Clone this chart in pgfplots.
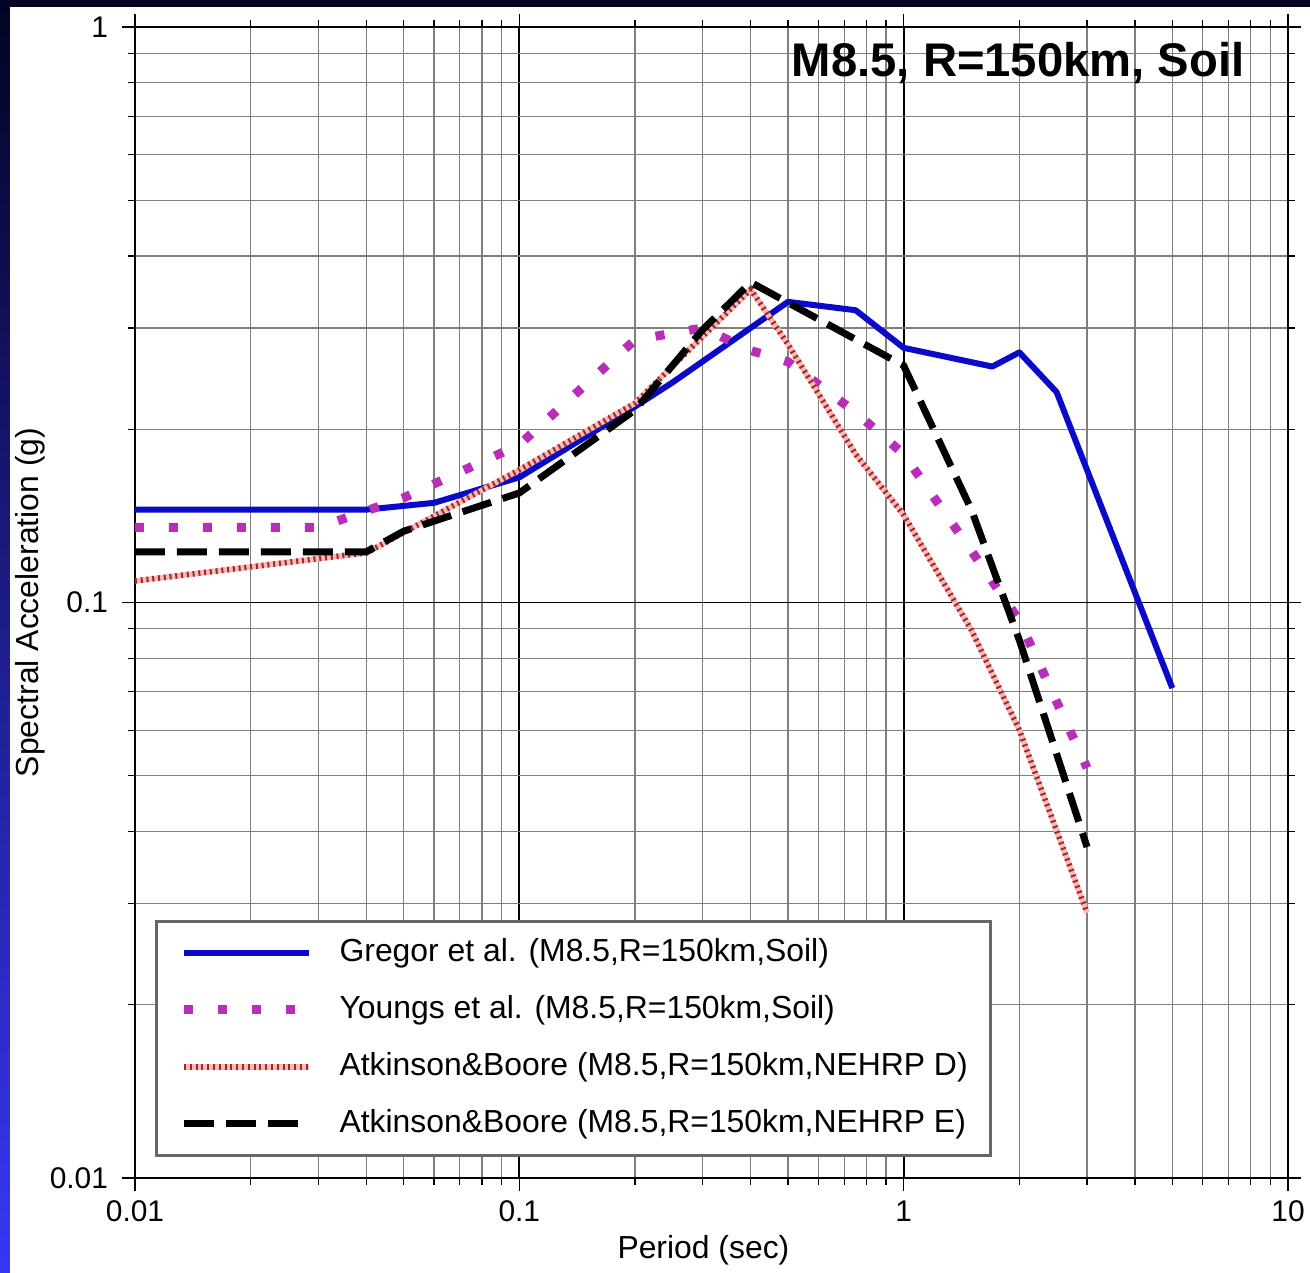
\documentclass[border=0pt]{standalone}
\usepackage{fontspec}
\setmainfont{Liberation Sans}
\usepackage{pgfplots}
\pgfplotsset{compat=1.18}

\definecolor{gregor}{RGB}{10,10,200}
\definecolor{youngs}{RGB}{185,45,185}
\definecolor{abd}{RGB}{165,40,40}
\definecolor{abdlight}{RGB}{248,185,185}

\begin{document}
\begin{tikzpicture}[x=1bp,y=1bp]
\shade[top color={rgb,255:red,3;green,3;blue,35}, bottom color={rgb,255:red,55;green,55;blue,245}] (0,0) rectangle (655,636.5);
\fill[white] (5,0) rectangle (655,633);
\begin{axis}[
  at={(67.5bp,47.5bp)}, anchor=south west,
  scale only axis, width=576.5bp, height=575.5bp,
  xmode=log, ymode=log,
  xmin=0.01, xmax=10, ymin=0.01, ymax=1,
  xtick={0.01,0.1,1,10}, xticklabels={0.01,0.1,1,10},
  ytick={0.01,0.1,1}, yticklabels={0.01,0.1,1},
  minor xtick={0.02,0.03,0.04,0.05,0.06,0.07,0.08,0.09,0.2,0.3,0.4,0.5,0.6,0.7,0.8,0.9,2,3,4,5,6,7,8,9},
  minor ytick={0.02,0.03,0.04,0.05,0.06,0.07,0.08,0.09,0.2,0.3,0.4,0.5,0.6,0.7,0.8,0.9},
  grid=both,
  major grid style={black, line width=0.9bp},
  minor grid style={black!50, line width=0.6bp},
  axis line style={line width=1.3bp},
  tick style={black, line width=0.6bp},
  tick align=outside,
  major tick length=6.5bp, minor tick length=3.5bp,
  tick label style={font=\fontsize{15}{18}\selectfont},
  yticklabel style={xshift=-3.5bp},
  xticklabel style={yshift=-1.5bp},
  xlabel={Period (sec)}, ylabel={Spectral Acceleration (g)},
  every axis x label/.style={at={(axis description cs:0.493,-0.0626)}, anchor=center, font=\fontsize{16}{19}\selectfont},
  every axis y label/.style={at={(axis description cs:-0.0911,0.5)}, rotate=90, anchor=center, font=\fontsize{16}{19}\selectfont},
  legend style={at={(axis description cs:0.01735,0.01825)}, anchor=south west,
    draw=black!60, line width=1.6bp, fill=white,
    font=\fontsize{16}{19}\selectfont,
    inner xsep=11.5bp, inner ysep=8bp, row sep=13bp, column sep=13bp,
    nodes={inner sep=0pt, text height=12bp, text depth=3.5bp}},
  legend cell align=left,
  legend image code/.code={\draw[#1] (0bp,0bp) -- (62.5bp,0bp);},
]
\addplot[gregor, line width=3bp, line join=round] coordinates {
(0.01,0.145) (0.04,0.145) (0.06,0.149) (0.1,0.165) (0.2,0.219) (0.25,0.241)
(0.5,0.333) (0.75,0.322) (1.0,0.277) (1.7,0.257) (2.0,0.272) (2.5,0.232) (5.0,0.071)};
\addlegendentry{Gregor et al. (M8.5,R=150km,Soil)}
\addplot[youngs, line width=4.5bp, dash pattern=on 4.5bp off 12.5bp] coordinates {
(0.01,0.135) (0.03,0.135) (0.05,0.152) (0.1,0.188) (0.2,0.286) (0.3,0.30)
(0.4,0.274) (0.5,0.262) (0.75,0.214) (1.0,0.181) (1.5,0.123) (2.0,0.093) (3.0,0.0516)};
\addlegendentry{Youngs et al. (M8.5,R=150km,Soil)}
\addplot[abd, line width=2.8bp, dash pattern=on 1bp off 1.9bp, preaction={draw=abdlight, solid, line width=2.8bp}] coordinates {
(0.01,0.109) (0.04,0.122) (0.1,0.17) (0.2,0.222) (0.3,0.29) (0.4,0.35)
(0.5,0.281) (0.75,0.181) (1.0,0.142) (1.5,0.0896) (2.0,0.060) (3.0,0.0289)};
\addlegendentry{Atkinson\&Boore (M8.5,R=150km,NEHRP D)}
\addplot[black, line width=3.5bp, dash pattern=on 15bp off 6bp] coordinates {
(0.01,0.1225) (0.04,0.1225) (0.05,0.133) (0.1,0.155) (0.2,0.216) (0.3,0.298)
(0.4,0.36) (1.0,0.258) (1.5,0.145) (2.0,0.086) (3.0,0.0376)};
\addlegendentry{Atkinson\&Boore (M8.5,R=150km,NEHRP E)}
\node[anchor=base east, inner sep=0pt, font=\fontsize{23.7}{28}\selectfont\bfseries] at (axis description cs:0.9627,0.9566) {M8.5, R=150km, Soil};
\end{axis}
\pgfresetboundingbox
\useasboundingbox (0,0) rectangle (655,636.5);
\end{tikzpicture}
\end{document}
